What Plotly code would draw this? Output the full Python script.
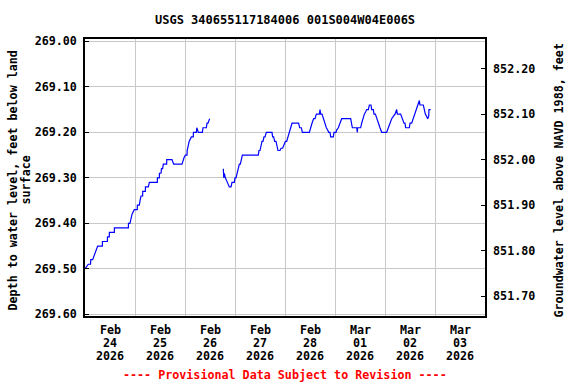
import plotly.graph_objects as go

# ---------------- data ----------------
TITLE = "USGS 340655117184006 001S004W04E006S"
LAND_SURFACE = 1121.26  # depth -> elevation offset (NAVD 1988)

seg1_time = [
    "2026-02-24 00:00", "2026-02-24 00:45", "2026-02-24 01:35", "2026-02-24 02:40", "2026-02-24 02:45",
    "2026-02-24 03:40", "2026-02-24 04:30", "2026-02-24 05:15", "2026-02-24 06:05", "2026-02-24 08:20",
    "2026-02-24 08:22", "2026-02-24 10:45", "2026-02-24 10:47", "2026-02-24 11:40", "2026-02-24 11:42",
    "2026-02-24 14:05", "2026-02-24 14:07", "2026-02-24 20:50", "2026-02-24 20:52", "2026-02-24 21:35",
    "2026-02-24 21:55", "2026-02-24 22:35", "2026-02-24 23:40", "2026-02-25 01:05", "2026-02-25 01:08",
    "2026-02-25 02:05", "2026-02-25 02:25", "2026-02-25 02:53", "2026-02-25 03:40", "2026-02-25 03:42",
    "2026-02-25 04:58", "2026-02-25 05:00", "2026-02-25 06:24", "2026-02-25 06:53", "2026-02-25 10:43",
    "2026-02-25 10:45", "2026-02-25 11:41", "2026-02-25 11:43", "2026-02-25 12:29", "2026-02-25 12:43",
    "2026-02-25 13:16", "2026-02-25 13:36", "2026-02-25 15:12", "2026-02-25 15:14", "2026-02-25 17:46",
    "2026-02-25 18:15", "2026-02-25 18:33", "2026-02-25 22:34", "2026-02-25 23:00", "2026-02-25 23:31",
    "2026-02-26 00:10", "2026-02-26 00:58", "2026-02-26 01:02", "2026-02-26 01:26", "2026-02-26 02:00",
    "2026-02-26 03:03", "2026-02-26 04:00", "2026-02-26 04:02", "2026-02-26 05:27", "2026-02-26 05:40",
    "2026-02-26 06:05", "2026-02-26 06:24", "2026-02-26 08:20", "2026-02-26 08:38", "2026-02-26 10:14",
    "2026-02-26 10:35", "2026-02-26 11:02", "2026-02-26 11:31", "2026-02-26 11:50",
]
seg1_depth = [
    269.50, 269.495, 269.49, 269.49, 269.48,
    269.48, 269.47, 269.46, 269.45, 269.45,
    269.44, 269.44, 269.43, 269.43, 269.42,
    269.42, 269.41, 269.41, 269.40, 269.40,
    269.39, 269.38, 269.37, 269.37, 269.36,
    269.36, 269.35, 269.34, 269.34, 269.33,
    269.33, 269.32, 269.32, 269.31, 269.31,
    269.30, 269.30, 269.29, 269.29, 269.28,
    269.28, 269.27, 269.27, 269.26, 269.26,
    269.265, 269.27, 269.27, 269.26, 269.256,
    269.25, 269.25, 269.24, 269.23, 269.22,
    269.21, 269.21, 269.20, 269.20, 269.19,
    269.195, 269.20, 269.20, 269.19, 269.19,
    269.18, 269.18, 269.17, 269.17,
]

seg2_time = [
    "2026-02-26 18:24", "2026-02-26 18:36", "2026-02-26 18:53", "2026-02-26 19:22", "2026-02-26 20:20",
    "2026-02-26 21:17", "2026-02-26 22:05", "2026-02-26 22:34", "2026-02-26 23:41", "2026-02-27 00:00",
    "2026-02-27 00:29", "2026-02-27 00:58", "2026-02-27 01:36", "2026-02-27 02:05", "2026-02-27 02:34",
    "2026-02-27 03:03", "2026-02-27 03:32", "2026-02-27 11:12", "2026-02-27 11:31", "2026-02-27 12:00",
    "2026-02-27 12:29", "2026-02-27 12:58", "2026-02-27 13:26", "2026-02-27 13:55", "2026-02-27 14:24",
    "2026-02-27 15:03", "2026-02-27 17:46", "2026-02-27 18:04", "2026-02-27 18:33", "2026-02-27 19:02",
    "2026-02-27 19:41", "2026-02-27 20:10", "2026-02-27 20:38", "2026-02-27 21:36", "2026-02-27 22:05",
    "2026-02-27 22:52", "2026-02-27 23:21", "2026-02-28 00:10", "2026-02-28 00:48", "2026-02-28 01:26",
    "2026-02-28 02:05", "2026-02-28 02:34", "2026-02-28 03:22", "2026-02-28 06:33", "2026-02-28 07:02",
    "2026-02-28 07:51", "2026-02-28 08:20", "2026-02-28 11:41", "2026-02-28 12:10", "2026-02-28 12:58",
    "2026-02-28 13:45", "2026-02-28 14:24", "2026-02-28 15:03", "2026-02-28 16:29", "2026-02-28 16:48",
    "2026-02-28 17:07", "2026-02-28 17:46", "2026-02-28 18:24", "2026-02-28 19:02", "2026-02-28 19:51",
    "2026-02-28 20:29", "2026-02-28 20:58", "2026-02-28 21:36", "2026-02-28 21:55", "2026-02-28 23:12",
    "2026-02-28 23:31", "2026-03-01 00:29", "2026-03-01 00:48", "2026-03-01 01:36", "2026-03-01 02:24",
    "2026-03-01 03:12", "2026-03-01 07:31", "2026-03-01 07:59", "2026-03-01 08:20", "2026-03-01 10:24",
    "2026-03-01 10:44", "2026-03-01 10:52", "2026-03-01 12:19", "2026-03-01 12:48", "2026-03-01 13:16",
    "2026-03-01 14:05", "2026-03-01 14:43", "2026-03-01 15:12", "2026-03-01 16:00", "2026-03-01 16:29",
    "2026-03-01 17:17", "2026-03-01 17:36", "2026-03-01 18:24", "2026-03-01 18:43", "2026-03-01 19:22",
    "2026-03-01 20:00", "2026-03-01 20:48", "2026-03-01 21:36", "2026-03-01 22:24", "2026-03-02 00:48",
    "2026-03-02 01:36", "2026-03-02 02:24", "2026-03-02 03:12", "2026-03-02 04:00", "2026-03-02 04:48",
    "2026-03-02 05:36", "2026-03-02 05:56", "2026-03-02 07:31", "2026-03-02 07:59", "2026-03-02 08:28",
    "2026-03-02 09:07", "2026-03-02 09:36", "2026-03-02 09:55", "2026-03-02 11:41", "2026-03-02 12:00",
    "2026-03-02 12:48", "2026-03-02 13:36", "2026-03-02 14:24", "2026-03-02 15:12", "2026-03-02 16:00",
    "2026-03-02 16:29", "2026-03-02 16:48", "2026-03-02 18:24", "2026-03-02 18:53", "2026-03-02 19:22",
    "2026-03-02 20:00", "2026-03-02 20:29", "2026-03-02 20:58", "2026-03-02 21:07", "2026-03-02 21:55",
]
seg2_depth = [
    269.28, 269.30, 269.29, 269.30, 269.31,
    269.32, 269.32, 269.31, 269.31, 269.30,
    269.30, 269.29, 269.28, 269.27, 269.27,
    269.26, 269.25, 269.25, 269.24, 269.24,
    269.23, 269.22, 269.22, 269.21, 269.21,
    269.20, 269.20, 269.21, 269.21, 269.22,
    269.22, 269.23, 269.24, 269.24, 269.235,
    269.235, 269.23, 269.22, 269.22, 269.21,
    269.20, 269.19, 269.18, 269.18, 269.19,
    269.19, 269.20, 269.20, 269.19, 269.18,
    269.17, 269.17, 269.16, 269.16, 269.15,
    269.16, 269.16, 269.17, 269.18, 269.19,
    269.195, 269.20, 269.20, 269.21, 269.21,
    269.20, 269.20, 269.195, 269.19, 269.18,
    269.17, 269.17, 269.18, 269.19, 269.19,
    269.20, 269.19, 269.19, 269.18, 269.17,
    269.16, 269.155, 269.15, 269.15, 269.14,
    269.14, 269.15, 269.15, 269.16, 269.16,
    269.17, 269.18, 269.19, 269.20, 269.20,
    269.19, 269.18, 269.17, 269.165, 269.16,
    269.15, 269.16, 269.16, 269.165, 269.17,
    269.18, 269.18, 269.19, 269.19, 269.18,
    269.18, 269.17, 269.16, 269.15, 269.14,
    269.13, 269.14, 269.14, 269.15, 269.16,
    269.165, 269.17, 269.165, 269.15, 269.15,
]

date_tick_pos = ["2026-02-24 12:00", "2026-02-25 12:00", "2026-02-26 12:00", "2026-02-27 12:00",
                 "2026-02-28 12:00", "2026-03-01 12:00", "2026-03-02 12:00", "2026-03-03 12:00"]
date_tick_month = ["Feb", "Feb", "Feb", "Feb", "Feb", "Mar", "Mar", "Mar"]
date_tick_day = ["24", "25", "26", "27", "28", "01", "02", "03"]
date_tick_year = ["2026"] * 8

left_ticks = [269.00, 269.10, 269.20, 269.30, 269.40, 269.50, 269.60]
right_ticks = [851.70, 851.80, 851.90, 852.00, 852.10, 852.20]

# ---------------- figure ----------------
FONT = "DejaVu Sans Mono"
depth_range = [269.6037, 268.9949]
elev_range = [LAND_SURFACE - depth_range[0], LAND_SURFACE - depth_range[1]]

x_all = seg1_time + [None] + seg2_time
d_all = seg1_depth + [None] + seg2_depth
e_all = [None if v is None else LAND_SURFACE - v for v in d_all]

fig = go.Figure()
fig.add_trace(go.Scatter(x=x_all, y=d_all, mode="lines", connectgaps=False,
                         line=dict(color="#0000ff", width=1.2), showlegend=False,
                         hoverinfo="x+y"))
fig.add_trace(go.Scatter(x=x_all, y=e_all, mode="lines", yaxis="y2",
                         line=dict(color="rgba(0,0,0,0)", width=0), showlegend=False,
                         hoverinfo="skip"))

tickfont = dict(family=FONT, size=11.7, color="black", weight="bold")

fig.update_layout(
    width=576, height=384,
    margin=dict(l=85, r=91, t=39, b=68),
    paper_bgcolor="white", plot_bgcolor="white",
    showlegend=False,
    xaxis=dict(
        type="date", range=["2026-02-24", "2026-03-04"],
        tick0="2026-02-24", dtick=86400000,
        showgrid=True, gridcolor="#c8c8c8", gridwidth=1,
        showticklabels=False, ticks="",
        showline=True, linecolor="black", linewidth=1.5, mirror=True,
        zeroline=False,
    ),
    yaxis=dict(
        range=depth_range, tickvals=left_ticks, tickformat=".2f",
        showgrid=True, gridcolor="#c8c8c8", gridwidth=1,
        ticks="inside", ticklen=4, tickcolor="black", tickwidth=1,
        tickfont=tickfont, ticklabelstandoff=4,
        showline=True, linecolor="black", linewidth=1.5, mirror=True,
        zeroline=False,
    ),
    yaxis2=dict(
        range=elev_range, tickvals=right_ticks, tickformat=".2f",
        overlaying="y", side="right", anchor="x",
        showgrid=False, ticks="inside", ticklen=4, tickcolor="black", tickwidth=1,
        tickfont=tickfont, ticklabelstandoff=4,
        showline=True, linecolor="black", linewidth=1.5,
        zeroline=False,
    ),
)

ann = []
# title
ann.append(dict(text=TITLE, xref="paper", yref="paper", x=0.5, y=1, yshift=19,
                xanchor="center", yanchor="middle", showarrow=False,
                font=dict(family=FONT, size=12, color="black", weight="bold")))
# date labels
for pos, m, d, yr in zip(date_tick_pos, date_tick_month, date_tick_day, date_tick_year):
    for txt, ys in ((m, -14), (d, -27), (yr, -40)):
        ann.append(dict(text=txt, xref="x", yref="paper", x=pos, y=0, yshift=ys,
                        xanchor="center", yanchor="middle", showarrow=False,
                        font=tickfont))
# left axis title (two lines)
ann.append(dict(text="Depth to water level, feet below land", xref="paper", yref="paper",
                x=0, y=0.5, xshift=-73, yshift=-3, textangle=-90,
                xanchor="center", yanchor="middle", showarrow=False, font=tickfont))
ann.append(dict(text="surface", xref="paper", yref="paper",
                x=0, y=0.5, xshift=-60, yshift=-3, textangle=-90,
                xanchor="center", yanchor="middle", showarrow=False, font=tickfont))
# right axis title
ann.append(dict(text="Groundwater level above NAVD 1988, feet", xref="paper", yref="paper",
                x=1, y=0.5, xshift=73, yshift=-3, textangle=-90,
                xanchor="center", yanchor="middle", showarrow=False, font=tickfont))
# provisional note
ann.append(dict(text="---- Provisional Data Subject to Revision ----", xref="paper", yref="paper",
                x=0.5, y=0, yshift=-59, xanchor="center", yanchor="middle", showarrow=False,
                font=dict(family=FONT, size=11.7, color="red", weight="bold")))

fig.update_layout(annotations=ann)
fig.write_html("out.html", config={"displayModeBar": False},
               post_script="document.body.style.margin='0';document.body.style.padding='0';")
